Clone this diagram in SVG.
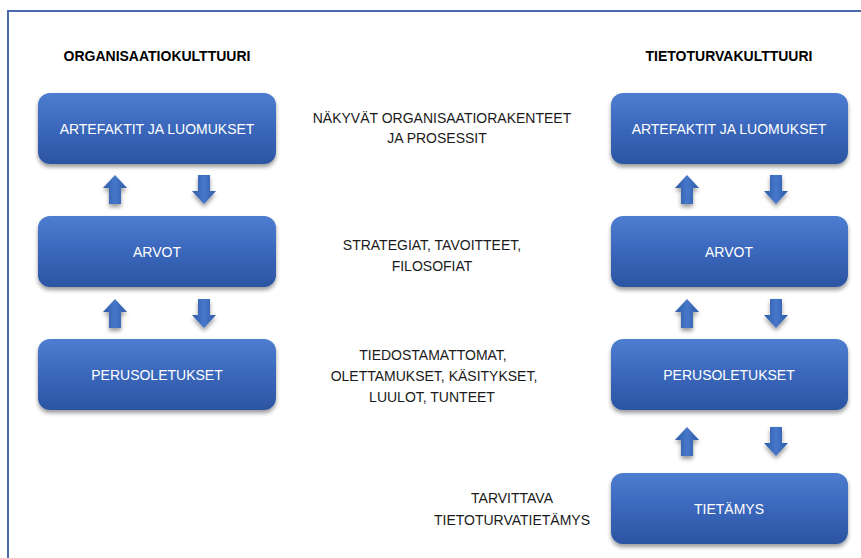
<svg xmlns="http://www.w3.org/2000/svg" width="861" height="558" viewBox="0 0 861 558">
<defs>
<linearGradient id="gBox" x1="0" y1="0" x2="0" y2="1">
<stop offset="0" stop-color="#4d7dd0"/>
<stop offset="0.5" stop-color="#3a67bb"/>
<stop offset="1" stop-color="#2b55a2"/>
</linearGradient>
<linearGradient id="gArr" x1="0" y1="0" x2="1" y2="0">
<stop offset="0" stop-color="#2f5aa8"/>
<stop offset="0.5" stop-color="#4677c9"/>
<stop offset="1" stop-color="#2f5aa8"/>
</linearGradient>
<filter id="sh" x="-10%" y="-20%" width="120%" height="150%">
<feGaussianBlur in="SourceAlpha" stdDeviation="2"/>
<feOffset dx="0" dy="3" result="b"/>
<feComponentTransfer><feFuncA type="linear" slope="0.4"/></feComponentTransfer>
<feMerge><feMergeNode/><feMergeNode in="SourceGraphic"/></feMerge>
</filter>
<path id="up" d="M0,0 L12,13 L6,13 L6,29 L-6,29 L-6,13 L-12,13 Z"/>
<path id="down" d="M-6,0 L6,0 L6,16 L12,16 L0,29 L-12,16 L-6,16 Z"/>
</defs>
<style>
.box{fill:url(#gBox);filter:url(#sh);}
.bt{font-family:"Liberation Sans",Arial,sans-serif;font-size:14px;fill:#ffffff;text-anchor:middle;}
.tt{font-family:"Liberation Sans",Arial,sans-serif;font-size:14px;font-weight:bold;fill:#000;text-anchor:middle;}
.mt{font-family:"Liberation Sans",Arial,sans-serif;font-size:14px;fill:#1a1a1a;text-anchor:middle;}
.arr{fill:url(#gArr);filter:url(#sh);}
.frame{stroke:#4a6aad;stroke-width:2;fill:none;}
</style>
<rect width="861" height="558" fill="#ffffff"/>
<path class="frame" d="M8,558 L8,11 L861,11"/>

<text class="tt" x="157" y="61">ORGANISAATIOKULTTUURI</text>
<text class="tt" x="729" y="61">TIETOTURVAKULTTUURI</text>

<g id="left-artefaktit"><rect class="box" x="38" y="93" width="238" height="71" rx="12"/><text class="bt" x="157" y="134">ARTEFAKTIT JA LUOMUKSET</text></g>
<g id="left-arvot"><rect class="box" x="38" y="216" width="238" height="71" rx="12"/><text class="bt" x="157" y="257">ARVOT</text></g>
<g id="left-perusoletukset"><rect class="box" x="38" y="339" width="238" height="71" rx="12"/><text class="bt" x="157" y="380">PERUSOLETUKSET</text></g>

<g id="right-artefaktit"><rect class="box" x="611" y="93" width="237" height="71" rx="12"/><text class="bt" x="729" y="134">ARTEFAKTIT JA LUOMUKSET</text></g>
<g id="right-arvot"><rect class="box" x="611" y="216" width="237" height="71" rx="12"/><text class="bt" x="729" y="257">ARVOT</text></g>
<g id="right-perusoletukset"><rect class="box" x="611" y="339" width="237" height="71" rx="12"/><text class="bt" x="729" y="380">PERUSOLETUKSET</text></g>
<g id="right-tietamys"><rect class="box" x="611" y="473" width="237" height="71" rx="12"/><text class="bt" x="729" y="514">TIETÄMYS</text></g>

<g id="labels">
<text class="mt" x="442" y="123">NÄKYVÄT ORGANISAATIORAKENTEET</text>
<text class="mt" x="437" y="143">JA PROSESSIT</text>
<text class="mt" x="432" y="250">STRATEGIAT, TAVOITTEET,</text>
<text class="mt" x="432" y="271">FILOSOFIAT</text>
<text class="mt" x="433" y="360">TIEDOSTAMATTOMAT,</text>
<text class="mt" x="434" y="381">OLETTAMUKSET, KÄSITYKSET,</text>
<text class="mt" x="432" y="402">LUULOT, TUNTEET</text>
<text class="mt" x="512" y="503">TARVITTAVA</text>
<text class="mt" x="512" y="525">TIETOTURVATIETÄMYS</text>
</g>

<g id="connectors">
<use href="#up" class="arr" x="115" y="175"/>
<use href="#down" class="arr" x="204" y="175"/>
<use href="#up" class="arr" x="115" y="299"/>
<use href="#down" class="arr" x="204" y="299"/>
<use href="#up" class="arr" x="687" y="175"/>
<use href="#down" class="arr" x="776" y="175"/>
<use href="#up" class="arr" x="687" y="299"/>
<use href="#down" class="arr" x="776" y="299"/>
<use href="#up" class="arr" x="687" y="427"/>
<use href="#down" class="arr" x="776" y="427"/>
</g>
</svg>
